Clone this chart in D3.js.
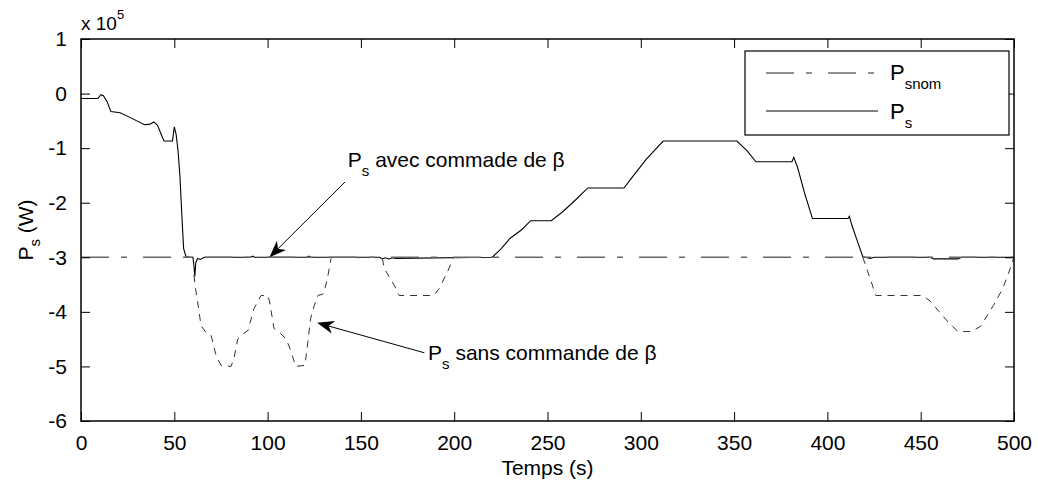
<!DOCTYPE html>
<html>
<head>
<meta charset="utf-8">
<script src="https://cdn.jsdelivr.net/npm/d3@7"></script>
<style>
  body { margin: 0; background: #fff; }
  text { font-family: "Liberation Sans", Arial, sans-serif; fill: #000; }
</style>
</head>
<body>
<svg width="1038" height="486"></svg>
<script>
// Ps avec commande de beta (solid), in units of 1e5 W
var solidT = [0, 9, 10.7, 12, 14, 16, 21, 27, 34, 37, 39, 41, 43, 44.5, 49, 50, 51, 52, 53, 54, 55, 56.3,
  60, 60.5, 61, 61.5, 62.5, 64, 66, 91, 92, 93, 121, 122, 123, 160, 161.5, 163, 165, 167, 169, 220,
  221, 225, 230, 236, 241, 252, 258, 265, 271.6, 291, 295, 303, 312, 351.5, 357, 361.7, 381, 382, 384,
  388, 392, 411, 411.8, 413, 416, 419, 423, 425, 455, 457, 470, 472, 500];
var solidV = [-0.09, -0.09, -0.02, -0.04, -0.15, -0.33, -0.35, -0.45, -0.57, -0.56, -0.52, -0.58, -0.75, -0.87, -0.87, -0.61, -0.75, -1.05, -1.5, -2.2, -2.84, -2.99,
  -3.0, -3.15, -3.35, -3.1, -3.02, -3.04, -3.0, -3.0, -2.98, -3.0, -3.0, -2.98, -3.0, -3.0, -3.03, -3.01, -3.03, -3.01, -3.02, -3.0,
  -2.98, -2.85, -2.65, -2.5, -2.33, -2.33, -2.17, -1.95, -1.73, -1.73, -1.55, -1.2, -0.87, -0.87, -1.05, -1.25, -1.25, -1.17, -1.35,
  -1.85, -2.29, -2.29, -2.25, -2.4, -2.7, -2.99, -3.02, -3.0, -3.0, -3.03, -3.03, -3.0, -3.0];

// Ps sans commande de beta (dashed), parts that leave the solid curve
var dip1T = [60.5, 61.5, 62.5, 64.3, 67, 69.7, 72.4, 75, 80.4, 82, 84, 87, 89.5, 92.7, 96.5, 100, 101, 103.4, 107, 110, 112.5, 115, 120, 121.6, 123, 125, 127, 130, 132, 134];
var dip1V = [-3.33, -3.6, -3.81, -4.25, -4.38, -4.43, -4.8, -4.98, -5.0, -4.85, -4.5, -4.4, -4.34, -3.94, -3.7, -3.7, -3.8, -4.3, -4.4, -4.5, -4.72, -5.0, -4.98, -4.55, -4.13, -3.88, -3.7, -3.67, -3.4, -3.02];
var dip2T = [161.5, 162.5, 165, 168, 170.5, 189, 192, 196.5, 199.5];
var dip2V = [-3.02, -3.2, -3.35, -3.52, -3.7, -3.7, -3.57, -3.26, -3.02];
var dip3T = [419, 421.6, 424, 426, 451, 455, 460, 465, 470, 477, 482, 486, 489, 494, 497, 500];
var dip3V = [-3.0, -3.26, -3.5, -3.7, -3.7, -3.8, -4.0, -4.2, -4.36, -4.36, -4.27, -4.05, -3.88, -3.57, -3.3, -3.0];

// Ps nominal
var nomT = [0, 500];
var nomV = [-3, -3];

var xTicks = [0, 50, 100, 150, 200, 250, 300, 350, 400, 450, 500];
var yTicks = [1, 0, -1, -2, -3, -4, -5, -6];

var svg = d3.select('svg');
var pLeft = 81, pRight = 1014, pTop = 39, pBottom = 421;

var x = d3.scaleLinear().domain([0, 500]).range([pLeft, pRight]);
var y = d3.scaleLinear().domain([-6, 1]).range([pBottom, pTop]);

var zip = function(ts, vs){
  return ts.map(function(t, i){ return [t, vs[i]]; });
};

var line = d3.line()
  .x(function(d){ return x(d[0]); })
  .y(function(d){ return y(d[1]); });

// curves
svg.append('path')
  .attr('d', line(zip(solidT, solidV)))
  .attr('fill', 'none').attr('stroke', '#000').attr('stroke-width', 1.1);

[[dip1T, dip1V], [dip2T, dip2V], [dip3T, dip3V]].forEach(function(s){
  svg.append('path')
    .attr('d', line(zip(s[0], s[1])))
    .attr('fill', 'none').attr('stroke', '#333').attr('stroke-width', 1)
    .attr('stroke-dasharray', '7,6');
});

svg.append('path')
  .attr('d', line(zip(nomT, nomV)))
  .attr('fill', 'none').attr('stroke', '#666').attr('stroke-width', 1.4)
  .attr('stroke-dasharray', '28,12,6,16');

// axes, ticks on all four sides pointing inward
var tickLen = 9;
var fontFam = '"Liberation Sans", Arial, sans-serif';
var plain = function(d){ return String(d); };
svg.append('g').attr('transform', 'translate(0,' + pBottom + ')')
  .call(d3.axisBottom(x).tickValues(xTicks).tickFormat(plain).tickSizeInner(-tickLen).tickSizeOuter(0).tickPadding(tickLen + 5))
  .call(function(g){
    g.select('.domain').remove();
    g.selectAll('text').attr('font-size', 21).attr('font-family', fontFam).attr('fill', '#000');
  });
svg.append('g').attr('transform', 'translate(0,' + pTop + ')')
  .call(d3.axisTop(x).tickValues(xTicks).tickSizeInner(-tickLen).tickSizeOuter(0).tickFormat(''))
  .call(function(g){ g.select('.domain').remove(); });
svg.append('g').attr('transform', 'translate(' + pLeft + ',0)')
  .call(d3.axisLeft(y).tickValues(yTicks).tickFormat(plain).tickSizeInner(-tickLen).tickSizeOuter(0).tickPadding(tickLen + 5))
  .call(function(g){
    g.select('.domain').remove();
    g.selectAll('text').attr('font-size', 21).attr('font-family', fontFam).attr('fill', '#000');
  });
svg.append('g').attr('transform', 'translate(' + pRight + ',0)')
  .call(d3.axisRight(y).tickValues(yTicks).tickSizeInner(-tickLen).tickSizeOuter(0).tickFormat(''))
  .call(function(g){ g.select('.domain').remove(); });

svg.append('rect')
  .attr('x', pLeft).attr('y', pTop)
  .attr('width', pRight - pLeft).attr('height', pBottom - pTop)
  .attr('fill', 'none').attr('stroke', '#000').attr('stroke-width', 1.5);

// exponent
var ex = svg.append('text').attr('x', pLeft).attr('y', 30).attr('font-size', 19);
ex.append('tspan').text('x 10');
ex.append('tspan').attr('dy', -11).attr('font-size', 13).text('5');

// axis labels
svg.append('text')
  .attr('x', (pLeft + pRight) / 2).attr('y', 475)
  .attr('text-anchor', 'middle').attr('font-size', 21)
  .text('Temps (s)');

var yl = svg.append('text')
  .attr('transform', 'translate(33,' + ((pTop + pBottom) / 2) + ') rotate(-90)')
  .attr('text-anchor', 'middle').attr('font-size', 21);
yl.append('tspan').text('P');
yl.append('tspan').attr('dy', 7).attr('font-size', 15).text('s');
yl.append('tspan').attr('dy', -7).text(' (W)');

// legend
var lg = svg.append('g');
lg.append('rect').attr('x', 745).attr('y', 51).attr('width', 264).attr('height', 84)
  .attr('fill', '#fff').attr('stroke', '#000').attr('stroke-width', 1.2);
lg.append('line').attr('x1', 766).attr('x2', 878).attr('y1', 73).attr('y2', 73)
  .attr('stroke', '#222').attr('stroke-width', 1).attr('stroke-dasharray', '28,12,6,16');
lg.append('line').attr('x1', 766).attr('x2', 878).attr('y1', 111).attr('y2', 111)
  .attr('stroke', '#000').attr('stroke-width', 1);
var l1 = lg.append('text').attr('x', 890).attr('y', 80).attr('font-size', 22);
l1.append('tspan').text('P');
l1.append('tspan').attr('dy', 9).attr('font-size', 15).text('snom');
var l2 = lg.append('text').attr('x', 890).attr('y', 119).attr('font-size', 22);
l2.append('tspan').text('P');
l2.append('tspan').attr('dy', 9).attr('font-size', 15).text('s');

// annotations with arrows
var arrow = function(x0, y0, x1, y1){
  var a = Math.atan2(y1 - y0, x1 - x0), L = 17, W = 6.5, N = 12;
  var p = function(dl, dw){
    return [x1 - dl * Math.cos(a) - dw * Math.sin(a), y1 - dl * Math.sin(a) + dw * Math.cos(a)];
  };
  svg.append('line').attr('x1', x0).attr('y1', y0).attr('x2', p(N, 0)[0]).attr('y2', p(N, 0)[1])
    .attr('stroke', '#000').attr('stroke-width', 1);
  svg.append('path')
    .attr('d', 'M' + [[x1, y1], p(L, W), p(N, 0), p(L, -W)].join('L') + 'Z')
    .attr('fill', '#000');
};

arrow(x(141.5), y(-1.62), x(101), y(-3));
arrow(x(184), y(-4.75), x(126.5), y(-4.2));

var annot = function(t, v, rest){
  var tx = svg.append('text').attr('x', x(t)).attr('y', y(v)).attr('font-size', 21);
  tx.append('tspan').text('P');
  tx.append('tspan').attr('dy', 9).attr('font-size', 15).text('s');
  tx.append('tspan').attr('dy', -9).text(' ' + rest);
};
annot(143, -1.34, 'avec commade de \u03b2');
annot(186, -4.88, 'sans commande de \u03b2');
</script>
</body>
</html>
